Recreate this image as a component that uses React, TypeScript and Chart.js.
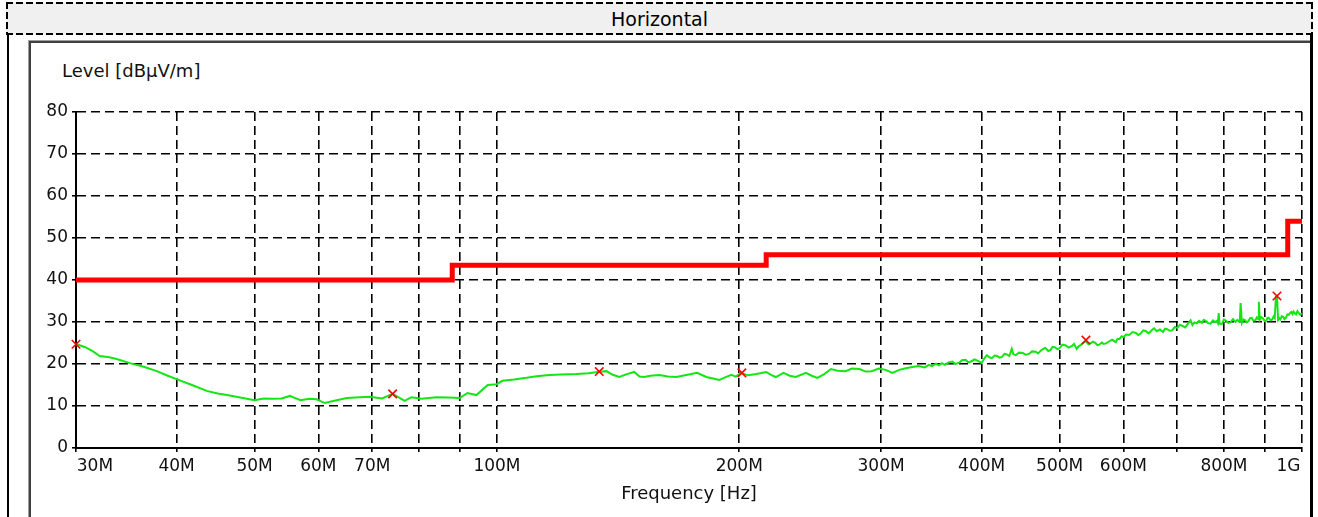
import React, { useEffect, useRef } from "react";
import { Chart, registerables } from "chart.js";

Chart.register(...registerables);

// ---------- DATA ----------
const chartTitle = "Horizontal";
const yAxisTitle = "Level [dBµV/m]";
const xAxisTitle = "Frequency [Hz]";

// Measured trace (frequency in MHz, level in dBµV/m)
const traceFreqMHz = [
  30.0, 30.8, 31.5, 32.1, 33.0, 33.7, 35.0, 36.5, 37.8, 39.0,
  40.0, 41.8, 43.6, 45.0, 46.2, 48.0, 50.0, 51.3, 52.7, 54.0,
  55.3, 57.0, 58.5, 59.7, 61.1, 63.0, 65.1, 67.6, 69.5, 72.0,
  74.2, 76.8, 78.3, 80.6, 84.1, 87.0, 89.9, 91.9, 94.3, 97.4,
  99.9, 101.6, 105, 108.8, 112, 116.2, 120, 125.5, 130, 133.3,
  136.8, 139, 141.9, 145, 148.1, 150.3, 152.4, 155, 159.1, 163,
  167, 171.9, 177.3, 182, 185, 188.9, 192, 195.5, 198, 201,
  205, 210, 216, 219, 222, 227, 231, 235, 242, 246,
  250, 255, 260, 265, 271, 276, 282, 287, 292, 298,
  304, 310, 316, 322, 328, 334, 340, 344, 347, 351,
  354, 357, 360, 364, 368, 371, 375, 378, 382, 385,
  388, 392, 395, 398, 400, 403, 406, 409, 412, 415,
  418, 421, 424, 427, 430, 433, 436, 438, 441, 445,
  450, 454, 458, 462, 467, 470, 474, 477, 480, 484,
  487, 490, 493, 497, 500, 504, 509, 513, 518, 521,
  525, 528, 532, 536, 539, 543, 546, 550, 554, 557,
  560, 564, 567, 571, 575, 581, 587, 590, 593, 597,
  600, 605, 610, 616, 622, 626, 630, 635, 640, 645,
  651, 655, 660, 666, 672, 676, 680, 685, 690, 695,
  700, 705, 710, 716, 723, 727, 731, 735, 740, 745,
  751, 755, 760, 765, 770, 775, 780, 784, 786, 788,
  790, 795, 800, 805, 810, 815, 821, 827, 831, 835,
  837, 839, 842, 846, 850, 854, 858, 862, 866, 870,
  875, 879, 882, 884, 886, 890, 895, 899, 903, 906,
  909, 914, 918, 922, 925, 928, 931, 934, 937, 940,
  944, 948, 951, 955, 959, 963, 967, 970, 973, 976,
  980, 983, 987, 990, 995, 1000,
];
const traceLevel = [
  24.8, 24.0, 23.0, 21.9, 21.6, 21.2, 20.2, 19.3, 18.3, 17.2,
  16.4, 15.0, 13.6, 13.0, 12.6, 12.0, 11.4, 11.8, 11.7, 11.8,
  12.4, 11.4, 11.7, 11.6, 10.7, 11.3, 11.9, 12.1, 12.2, 11.8,
  12.9, 11.2, 12.1, 11.7, 12.1, 12.0, 11.9, 13.1, 12.6, 15.0,
  15.2, 16.0, 16.3, 16.7, 17.1, 17.4, 17.5, 17.6, 17.8, 18.1,
  18.3, 17.5, 16.9, 17.6, 18.1, 17.0, 16.9, 17.2, 17.4, 17.0,
  16.9, 17.4, 17.9, 16.9, 16.6, 16.2, 16.8, 17.4, 17.0, 17.9,
  17.3, 17.6, 18.1, 17.4, 16.9, 17.9, 17.2, 16.9, 17.9, 17.2,
  16.7, 17.6, 18.8, 18.4, 18.3, 18.9, 18.8, 18.2, 18.3, 18.9,
  18.6, 17.9, 18.6, 19.0, 19.3, 19.5, 19.2, 19.8, 19.5, 20.1,
  19.7, 20.2, 19.8, 20.4, 20.6, 20.0, 20.3, 20.9, 21.0, 20.4,
  20.6, 21.1, 20.8, 20.5, 20.2, 21.3, 22.1, 21.6, 21.4, 22.0,
  21.9, 21.5, 21.7, 22.4, 22.3, 21.9, 23.6, 22.3, 22.1, 22.7,
  22.6, 22.2, 22.4, 23.0, 22.9, 22.5, 23.2, 23.6, 23.8, 23.1,
  23.3, 24.1, 24.0, 23.5, 23.8, 24.6, 24.4, 23.9, 24.3, 24.8,
  23.6, 24.2, 24.6, 25.2, 25.4, 24.7, 24.9, 25.3, 25.0, 24.5,
  24.6, 25.1, 24.8, 24.9, 25.3, 25.8, 25.2, 26.0, 25.9, 26.6,
  26.4, 27.0, 26.9, 27.6, 27.4, 26.9, 27.2, 28.0, 27.8, 27.3,
  28.1, 28.5, 27.8, 28.2, 27.6, 28.4, 28.3, 27.9, 28.0, 28.8,
  28.6, 29.3, 29.1, 28.7, 29.8, 30.4, 29.3, 29.9, 29.7, 30.3,
  29.8, 30.5, 30.2, 29.7, 29.6, 30.4, 30.0, 30.3, 29.8, 32.1,
  29.6, 29.5, 30.6, 30.3, 29.8, 29.9, 30.7, 30.0, 30.5, 30.1,
  30.2, 34.5, 29.8, 30.6, 30.4, 29.9, 30.2, 30.9, 31.0, 30.3,
  30.4, 31.1, 30.7, 34.8, 30.5, 31.2, 30.8, 30.2, 30.3, 31.0,
  31.0, 30.4, 30.6, 31.3, 30.9, 36.0, 36.2, 30.5, 30.9, 30.6,
  31.4, 31.2, 30.7, 31.0, 31.8, 31.7, 32.2, 32.4, 31.9, 32.5,
  32.0, 31.8, 32.6, 32.2, 31.7, 32.1,
];

// Limit line (stepped)
const limitFreqMHz = [30, 88, 88, 216, 216, 960, 960, 1000];
const limitLevel = [40, 40, 43.5, 43.5, 46, 46, 54, 54];

// Peak markers
const markerFreqMHz = [30, 74.2, 134, 201.5, 539, 931];
const markerLevel = [24.7, 12.9, 18.2, 17.9, 25.7, 36.2];

// Axes
const xTickValues = [30, 40, 50, 60, 70, 80, 90, 100, 200, 300, 400, 500, 600, 700, 800, 900, 1000];
const xTickLabels = ["30M", "40M", "50M", "60M", "70M", "", "", "100M", "200M", "300M", "400M", "500M", "600M", "", "800M", "", "1G"];
const yMin = 0;
const yMax = 80;
const yStep = 10;

// ---------- COMPONENT ----------
const FONT = "'DejaVu Sans', 'Liberation Sans', Arial, sans-serif";

export default function App() {
  const canvasRef = useRef<HTMLCanvasElement | null>(null);

  useEffect(() => {
    const canvas = canvasRef.current;
    if (!canvas) return;
    const toPts = (xs: number[], ys: number[]) => xs.map((x, i) => ({ x, y: ys[i] }));
    const chart = new Chart(canvas, {
      type: "line",
      data: {
        datasets: [
          {
            label: "Peaks",
            data: toPts(markerFreqMHz, markerLevel),
            showLine: false,
            pointStyle: "crossRot",
            pointRadius: 6,
            pointBorderWidth: 1.6,
            pointBorderColor: "#ff0000",
            borderColor: "#ff0000",
            backgroundColor: "#ff0000",
            order: 0,
            clip: false,
          } as any,
          {
            label: "Limit",
            data: toPts(limitFreqMHz, limitLevel),
            borderColor: "#ff0000",
            borderWidth: 5,
            pointRadius: 0,
            fill: false,
            order: 1,
          },
          {
            label: "Level",
            data: toPts(traceFreqMHz, traceLevel),
            borderColor: "rgb(20,230,20)",
            borderWidth: 2,
            pointRadius: 0,
            fill: false,
            order: 2,
          },
        ],
      },
      options: {
        responsive: false,
        animation: false,
        events: [],
        layout: { padding: { top: 68, right: 8, left: 0, bottom: 0 } },
        plugins: {
          legend: { display: false },
          tooltip: { enabled: false },
          title: { display: false },
        },
        scales: {
          x: {
            type: "logarithmic",
            min: 30,
            max: 1000,
            afterBuildTicks: (axis: any) => {
              axis.ticks = xTickValues.map((v) => ({ value: v }));
            },
            afterFit: (s: any) => {
              s.height = 69;
              s.paddingLeft = 0;
              s.paddingRight = 0;
            },
            ticks: {
              autoSkip: false,
              maxRotation: 0,
              minRotation: 0,
              padding: 4,
              color: "#111",
              font: { family: FONT, size: 17 },
              callback: (_v: any, i: number) => {
                const t = xTickLabels[i] ?? "";
                if (i === 0) return " ".repeat(7) + t;
                if (i === xTickValues.length - 1) return t + " ".repeat(5);
                return t;
              },
            },
            grid: {
              color: "#000",
              lineWidth: 1.6,
              tickLength: 4,
              tickColor: "#000",
              tickWidth: 1.6,
              tickBorderDash: [],
            },
            border: { display: true, color: "#000", width: 2, dash: [9, 5] },
            title: {
              display: true,
              text: xAxisTitle,
              color: "#111",
              font: { family: FONT, size: 18 },
              padding: { top: 0, bottom: 12 },
            },
          },
          y: {
            min: yMin,
            max: yMax,
            afterFit: (s: any) => {
              s.width = 44;
              s.paddingTop = 0;
              s.paddingBottom = 0;
            },
            ticks: {
              stepSize: yStep,
              padding: 4,
              color: "#111",
              font: { family: FONT, size: 17 },
            },
            grid: {
              color: "#000",
              lineWidth: 1.6,
              tickLength: 4,
              tickColor: "#000",
              tickWidth: 1.6,
              tickBorderDash: [],
            },
            border: { display: true, color: "#000", width: 2, dash: [9, 5] },
          },
        },
      } as any,
    });
    return () => chart.destroy();
  }, []);

  const dashH = "repeating-linear-gradient(90deg, #000 0 7px, transparent 7px 10px)";
  const dashV = "repeating-linear-gradient(180deg, #000 0 7px, transparent 7px 10px)";

  return (
    <div
      style={{
        position: "absolute",
        left: 0,
        top: 0,
        width: 1318,
        height: 517,
        overflow: "hidden",
        background: "#fff",
        fontFamily: FONT,
      }}
    >
      {/* title bar */}
      <div
        style={{
          position: "absolute",
          left: 6,
          top: 2,
          width: 1307,
          height: 33,
          background: "#f0f0f0",
          display: "flex",
          alignItems: "center",
          justifyContent: "center",
          fontSize: 19,
          color: "#000",
        }}
      >
        {chartTitle}
      </div>
      <div style={{ position: "absolute", left: 6, top: 2, width: 1307, height: 2, background: dashH }} />
      <div style={{ position: "absolute", left: 6, top: 33, width: 1307, height: 2, background: dashH }} />
      <div style={{ position: "absolute", left: 6, top: 2, width: 2, height: 33, background: dashV }} />
      <div style={{ position: "absolute", left: 1311, top: 2, width: 2, height: 33, background: dashV }} />

      {/* outer frame lines */}
      <div style={{ position: "absolute", left: 7, top: 35, width: 2, height: 482, background: "#000" }} />
      <div style={{ position: "absolute", left: 1310, top: 35, width: 3, height: 482, background: "#000" }} />

      {/* inner panel borders */}
      <div style={{ position: "absolute", left: 28, top: 40, width: 1282, height: 1, background: "#a0a0a0" }} />
      <div style={{ position: "absolute", left: 29, top: 41, width: 1281, height: 2, background: "#404040" }} />
      <div style={{ position: "absolute", left: 28, top: 40, width: 1, height: 477, background: "#a0a0a0" }} />
      <div style={{ position: "absolute", left: 29, top: 41, width: 2, height: 476, background: "#404040" }} />

      {/* y axis title */}
      <div
        style={{
          position: "absolute",
          left: 62,
          top: 61,
          fontSize: 18,
          lineHeight: "20px",
          color: "#111",
          whiteSpace: "nowrap",
        }}
      >
        {yAxisTitle}
      </div>

      <canvas
        ref={canvasRef}
        width={1278}
        height={473}
        style={{ position: "absolute", left: 32, top: 44, width: 1278, height: 473, display: "block" }}
      />
    </div>
  );
}
